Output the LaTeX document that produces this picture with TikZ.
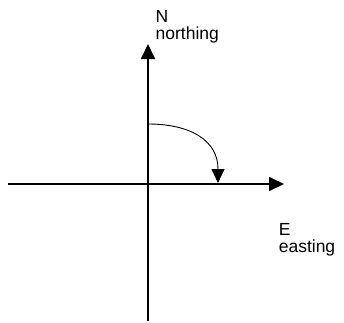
\documentclass[tikz,border=0pt]{standalone}
\usepackage{fontspec}
\setmainfont{Liberation Sans}
\usetikzlibrary{arrows.meta}

\begin{document}
\begin{tikzpicture}[x=1pt,y=-1pt,
axis/.style={-{Triangle[length=15pt,width=14pt]},line width=1.8pt},
turn/.style={-{Triangle[length=14pt,width=13pt]},line width=.9pt},
lbl/.style={font=\fontsize{17.5}{17}\selectfont,align=left,inner sep=0pt,anchor=north west}]
\useasboundingbox(0,0)rectangle(344,322);
\coordinate(west) at (8,184);\coordinate(east) at (284,184);
\coordinate(south) at (148,321);\coordinate(north) at (148,44);
\coordinate(start) at (148,124);\coordinate(stop) at (218,183);
\node[lbl](nlabel) at (155.5,10){N\\northing};
\node[lbl](elabel) at (278.6,223){E\\easting};
\draw[axis](west)--(east);\draw[axis](south)--(north);
\draw[turn](start)..controls(190,124)and(218,140)..(stop);
\end{tikzpicture}
\end{document}
